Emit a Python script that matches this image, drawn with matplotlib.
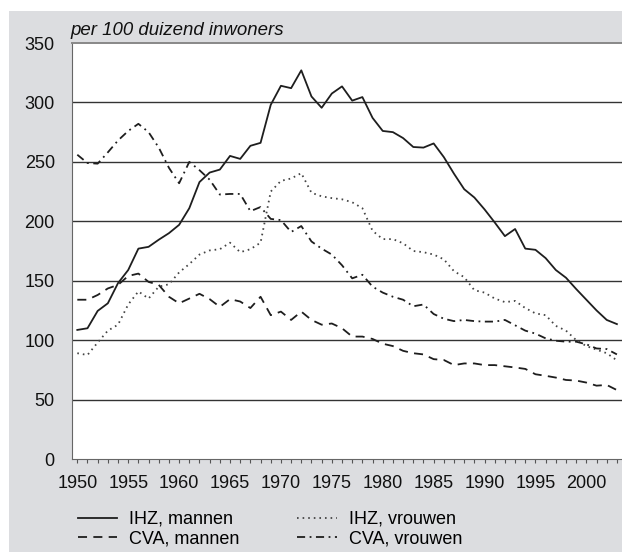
import numpy as np
import matplotlib
matplotlib.use("Agg")
import matplotlib.pyplot as plt
from matplotlib.patches import Rectangle

plt.rcParams['font.family'] = ['Liberation Sans', 'DejaVu Sans']

years = np.arange(1950, 2004)

# sterfte per 100 duizend inwoners
ihz_mannen = [108.6, 110, 124.6, 131, 148, 159, 177, 178.5, 184.5, 190,
              197, 211, 233, 241, 243.5, 255, 252.5, 263.5, 266, 298,
              314, 312, 327, 305, 295.5, 307.5, 313.5, 301.5, 304.5, 287,
              276, 275, 270, 262.5, 262, 265.5, 254, 240, 227, 220,
              210, 199, 187.5, 193.5, 177, 176, 169, 159, 152.5, 143,
              134, 125, 117, 113.5]
cva_mannen = [134, 134, 138, 143.5, 146.5, 154, 156, 149, 146.5, 136.5,
              131, 135, 139, 134.5, 128, 134.5, 132.5, 127, 136.5, 121,
              124, 117, 124, 117, 113, 114, 110, 103, 103, 101,
              97, 95, 91, 89, 88, 84, 83.3, 79, 80.4, 80.4,
              79, 79, 78, 77, 75.8, 71.3, 70, 68.5, 66.5, 66,
              64.3, 61.7, 62.3, 58]
ihz_vrouwen = [89, 87.5, 98, 108, 113, 130, 141, 135, 145, 147,
               157, 164, 172, 175.5, 176.5, 182, 174, 176.5, 182, 225,
               234, 236, 240.5, 224, 221, 219.5, 218.5, 216, 211, 192,
               185, 185, 181.5, 175, 174, 172, 168, 158, 153, 142,
               140, 135, 132, 133, 127, 122.5, 121, 112, 108, 100,
               95, 92, 89, 83]
cva_vrouwen = [256, 249, 248.5, 258, 268, 276, 282, 275, 262, 245,
               232, 250, 243, 235, 222.5, 223, 223, 208.5, 212, 202,
               201, 191, 196, 183, 177, 172, 163, 152, 155, 145,
               140, 136.5, 134, 128.5, 130, 122, 118, 116, 117, 116,
               115.6, 115.6, 117, 112.5, 108, 105.5, 101.5, 99.5, 98.7, 98.7,
               96.5, 93, 92.5, 88]

W, H = 622, 552
fig = plt.figure(figsize=(W / 100, H / 100), dpi=100, facecolor='white')
fig.patches.append(Rectangle((9 / W, 0), 1, 1 - 11 / H, transform=fig.transFigure,
                             facecolor='#dcdde0', edgecolor='none', zorder=-10))

ax = fig.add_axes([71.5 / W, (H - 459) / H, (W - 71.5) / W, (459 - 43) / H])
ax.set_facecolor('white')

col = '#1e1e1e'
ax.plot(years, ihz_mannen, color=col, lw=1.3, ls='-', label='IHZ, mannen')
ax.plot(years, cva_mannen, color=col, lw=1.3, dashes=(5, 3.5), label='CVA, mannen')
ax.plot(years, ihz_vrouwen, color='#444444', lw=1.3, dashes=(0.9, 2.2), label='IHZ, vrouwen')
ax.plot(years, cva_vrouwen, color=col, lw=1.3, dashes=(4.5, 2.5, 1, 2.5), label='CVA, vrouwen')

ax.set_xlim(1949.43, 2003.5)
ax.set_ylim(0, 350)
ax.set_yticks(np.arange(0, 351, 50))
ax.set_xticks(np.arange(1950, 2001, 5))
ax.set_xticks(years, minor=True)
for v in range(50, 350, 50):
    ax.axhline(v, color='#333333', lw=1.0, zorder=0)

ax.tick_params(axis='y', length=0, labelsize=13, pad=12, labelcolor='#111111')
ax.tick_params(axis='x', which='both', direction='out', length=3, width=0.8,
               color='#555555', labelsize=13, pad=8.5, labelcolor='#111111')
ax.spines['right'].set_visible(False)
ax.spines['top'].set_color('#888888')
ax.spines['top'].set_linewidth(1.4)
ax.spines['left'].set_color('#666666')
ax.spines['bottom'].set_color('#666666')

fig.text(70 / W, 1 - 35 / H, 'per 100 duizend inwoners', fontsize=13.4,
         style='italic', color='#111111', ha='left', va='baseline')

fig.legend(loc='upper left', bbox_to_anchor=(78 / W, 1 - 511 / H), ncol=2,
           frameon=False, fontsize=13, handlelength=2.17, handletextpad=0.67,
           columnspacing=3.2, labelspacing=0.12, borderpad=0, borderaxespad=0)

fig.savefig('out.png', dpi=100, facecolor='white')
